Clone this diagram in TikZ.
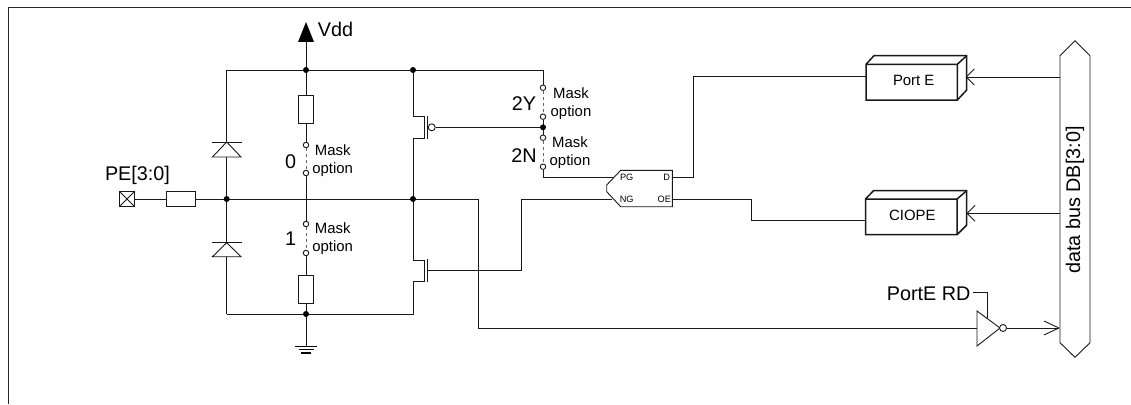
\documentclass[tikz,border=0pt]{standalone}
\usepackage{fontspec}
\setmainfont{Liberation Sans}
\usetikzlibrary{arrows.meta}
\newcommand{\fbig}{\fontsize{19.8}{20}\selectfont}
\newcommand{\fmid}{\fontsize{14.9}{18}\selectfont}
\newcommand{\fsmall}{\fontsize{9.2}{10}\selectfont}
\tikzset{
  wire/.style={line width=0.9pt,black!90},
  box/.style={draw=black!90,line width=0.9pt,fill=white,inner sep=0pt,outer sep=0pt,minimum width=#1},
  box/.default=14.5pt,
  dot/.style={circle,fill=black,draw=none,minimum size=6pt,inner sep=0pt},
  sw/.style={circle,fill=white,draw=black!90,line width=0.9pt,minimum size=5.5pt,inner sep=0pt},
  bub/.style={circle,fill=white,draw=black!90,line width=0.9pt,minimum size=7pt,inner sep=0pt},
  bl/.style={font=\fbig,inner sep=0pt,text=black},
  md/.style={font=\fmid,inner sep=0pt,align=center,text=black},
  ti/.style={font=\fsmall,inner sep=0pt,text=black},
  heavy/.style={line width=1.5pt,black!90,line join=miter},
  opena/.style={-{Straight Barb[length=8pt,width=16pt,line width=0.9pt]}},
  opens/.style={-{Straight Barb[length=15pt,width=14pt,line width=0.9pt]}},
  dashw/.style={line width=0.9pt,black!60,dash pattern=on 3pt off 3pt},
}
\begin{document}
\begin{tikzpicture}[x=1pt,y=-1pt]
\useasboundingbox (0,0) rectangle (1131,404);
% frame
\coordinate (fa) at (8.5,404); \coordinate (fb) at (8.5,7.5); \coordinate (fc) at (1131,7.5);
\draw[line width=1.1pt,black!85] (fa) -- (fb) -- (fc);

% key coordinates
\coordinate (vtip) at (306,22);
\coordinate (tr) at (543,70);
\coordinate (tl) at (226.7,70);
\coordinate (mj) at (478,199);
\coordinate (bl) at (226.7,314);
\coordinate (gnd) at (306,346.7);
\coordinate (mm) at (306,199);

% rails
\draw[wire] (tl) -- (tr);
\draw[wire] (226.7,199) -- (mj);
\draw[wire] (bl) -- (306,314);
\draw[wire] (tl) -- (bl);

% Vdd
\draw[wire] (306,70) -- (306,40);
\fill[black] (vtip) -- (314,42) -- (298,42) -- cycle;
\node[bl] (vdd) at (335.5,29) {Vdd};

% pad
\node[draw=black!90,line width=1.5pt,fill=white,minimum width=15pt,minimum height=15pt,inner sep=0pt,
      path picture={\draw[line width=0.9pt] (path picture bounding box.north west)--(path picture bounding box.south east)
                    (path picture bounding box.north east)--(path picture bounding box.south west);}] (pad) at (127,199) {};
\node[bl] (pe) at (137.5,175.7) {PE[3:0]};
\node[draw=black!90,line width=0.9pt,fill=white,minimum width=29pt,minimum height=14.5pt,inner sep=0pt] (rin) at (180.5,199) {};
\draw[wire] (pad) -- (rin); \draw[wire] (rin) -- (226.7,199);

% diodes
\draw[line width=0.9pt,black!90,fill=white] (226.7,142) -- (241,157) -- (212.4,157) -- cycle;
\draw[wire] (212,142) -- (241.5,142);
\draw[line width=0.9pt,black!90,fill=white] (226.7,242.7) -- (241,256.7) -- (212.4,256.7) -- cycle;
\draw[wire] (212,242.7) -- (241.5,242.7);

% pull-up leg
\node[box,minimum height=28pt] (r0) at (306,109) {};
\node[sw] (s0a) at (306,145) {};
\node[sw] (s0b) at (306,173) {};
\draw[wire] (306,70) -- (r0); \draw[wire] (r0) -- (s0a);
\draw[dashw] (s0a) -- (s0b);
\draw[wire] (s0b) -- (mm);
\node[bl] (l0) at (290.7,162) {0};
\node[md] (m0) at (332.7,161) {Mask\\option};

% pull-down leg
\node[box,minimum height=28pt] (r1) at (306,289) {};
\node[sw] (s1a) at (306,224) {};
\node[sw] (s1b) at (306,253) {};
\draw[wire] (mm) -- (s1a);
\draw[dashw] (s1a) -- (s1b);
\draw[wire] (s1b) -- (r1); \draw[wire] (r1) -- (306,314);
\node[bl] (l1) at (290.7,239) {1};
\node[md] (m1) at (332.7,239) {Mask\\option};

% ground
\draw[wire] (306,314) -- (gnd);
\draw[line width=1.3pt,black] (295,346.7) -- (317,346.7);
\draw[line width=1.3pt,black] (298.5,349.8) -- (313.5,349.8);
\draw[line width=1.3pt,black] (301,352.9) -- (311,352.9);

% PMOS
\draw[wire] (413,70) -- (413,116) -- (424.3,116) -- (424.3,138) -- (413,138) -- (413,199);
\draw[wire] (427.7,116) -- (427.7,139);
\node[bub] (pb) at (431.7,127.3) {};
\draw[wire] (pb) -- (543,127.3);

% NMOS
\draw[wire] (413,199) -- (413,260) -- (424.3,260) -- (424.3,281.7) -- (413,281.7) -- (413,314) -- (306,314);
\draw[wire] (427.7,259) -- (427.7,282);
\coordinate (ngj) at (521.3,270.7);
\coordinate (nga) at (427.7,270.7);
\draw[wire] (nga) -- (ngj) -- (521.3,199) -- (612,199);

% 2Y / 2N
\node[sw] (s2a) at (543,87.7) {};
\node[sw] (s2b) at (543,116.7) {};
\node[sw] (s2c) at (543,137.7) {};
\node[sw] (s2d) at (543,166.7) {};
\draw[wire] (tr) -- (s2a);
\draw[dashw] (s2a) -- (s2b);
\draw[wire] (s2b) -- (s2c);
\draw[dashw] (s2c) -- (s2d);
\draw[wire] (s2d) -- (543,177.7) -- (613,177.7);
\node[bl] (l2y) at (524,104) {2Y};
\node[bl] (l2n) at (524,156) {2N};
\node[md] (m2y) at (571,104) {Mask\\option};
\node[md] (m2n) at (570,152.7) {Mask\\option};

% junction dots
\node[dot] (nv) at (306,70) {};
\node[dot] (np) at (413,70) {};
\node[dot] (nd) at (226.7,199) {};
\node[dot] (nm) at (413,199) {};
\node[dot] (nb) at (306,314) {};
\node[dot] (ng) at (543,127.3) {};

% driver block
\draw[wire,fill=white] (620.7,170.3) -- (672.3,170.3) -- (672.3,206.7) -- (620.7,206.7) -- (606.7,191.7) -- (606.7,185) -- cycle;
\node[ti] (pg) at (626.7,177.7) {PG};
\node[ti] (ng2) at (626.7,199.7) {NG};
\node[ti] (dd) at (666.7,177.7) {D};
\node[ti] (oe) at (664.3,199.7) {OE};

% output wires
\coordinate (boxe) at (866,76.7);
\coordinate (boxc) at (865.5,220.3);
\draw[wire] (672.3,177.7) -- (693.3,177.7) -- (693.3,76.7) -- (boxe);
\draw[wire] (672.3,199.5) -- (751.7,199.5) -- (751.7,220.3) -- (boxc);

% Port E
\draw[heavy,fill=white] (866,64.3) -- (874,55.7) -- (966.7,55.7) -- (966.7,90) -- (957.3,100) -- (866,100) -- cycle;
\draw[heavy] (866,64.3) -- (957.3,64.3) -- (957.3,100) (957.3,64.3) -- (966.7,55.7);
\node[md] (pe2) at (913.7,80) {Port E};

% CIOPE
\draw[heavy,fill=white] (865.5,199) -- (873.5,190.7) -- (966.7,190.7) -- (966.7,225) -- (957,234.7) -- (865.5,234.7) -- cycle;
\draw[heavy] (865.5,199) -- (957,199) -- (957,234.7) (957,199) -- (966.7,190.7);
\node[md] (ci) at (912.3,215) {CIOPE};

% bus
\draw[wire,fill=white] (1075,40.7) -- (1090,55.7) -- (1090,342.7) -- (1075,357.3) -- (1060,342.7) -- (1060,55.7) -- cycle;
\node[bl,rotate=90] (bus) at (1075,200) {data bus DB[3:0]};
\coordinate (be) at (1060,77);
\coordinate (bc) at (1060,213.3);
\coordinate (bi) at (1060,328);
\draw[wire,opena] (be) -- (965.7,77);
\draw[wire,opena] (bc) -- (966.5,213.3);

% inverter
\draw[wire,fill=white] (977,311) -- (1000,328) -- (977,346) -- cycle;
\node[bub] (ib) at (1003,328) {};
\coordinate (ii) at (977,328);
\draw[wire] (mj) -- (478,328) -- (ii);
\draw[wire,opens] (ib) -- (bi);
\node[bl] (rd) at (928.7,294) {PortE RD};
\draw[wire] (973,292.7) -- (987,292.7) -- (987,318);
\end{tikzpicture}
\end{document}
